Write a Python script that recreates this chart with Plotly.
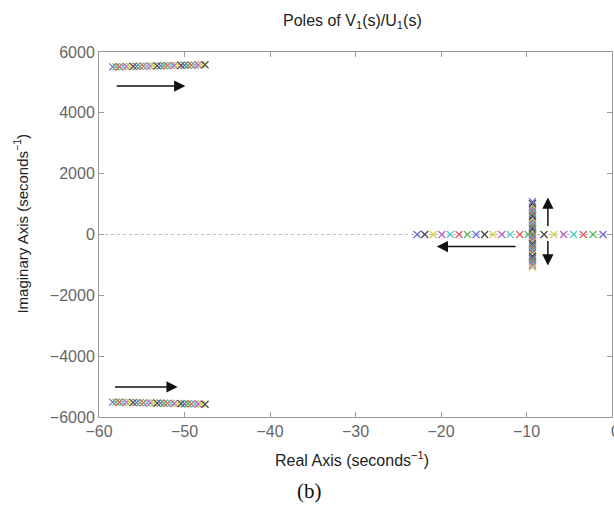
import plotly.graph_objects as go

# ---- data ----
upper_re = [-58.4, -58.0, -57.6, -57.2, -56.8, -56.4, -56.0, -55.6, -55.2, -54.8,
            -54.4, -54.0, -53.6, -53.2, -52.8, -52.4, -52.0, -51.6, -51.2, -50.8,
            -50.4, -50.0, -49.6, -49.2, -48.8, -48.4, -48.0, -47.6]
upper_im = [5510, 5513, 5515, 5518, 5520, 5523, 5525, 5528, 5530, 5533,
            5535, 5538, 5540, 5543, 5545, 5548, 5550, 5553, 5555, 5558,
            5560, 5563, 5565, 5568, 5570, 5573, 5575, 5580]
lower_im = [-v for v in upper_im]

real_left = [-9.8, -10.8, -11.9, -12.9, -13.9, -14.9, -15.9, -16.9, -17.9,
             -18.9, -19.9, -20.9, -21.9, -22.8]
real_right = [-1.05, -2.2, -3.35, -4.5, -5.65, -6.8, -7.95]

column_re = -9.3
column_im = [0, 60, 120, 180, 240, 300, 360, 420, 480, 540, 600,
             660, 720, 780, 840, 900, 960, 1020, 1080]

x_ticks = [-60, -50, -40, -30, -20, -10, 0]
x_ticklabels = ["−60", "−50", "−40", "−30", "−20", "−10", ""]
y_ticks = [-6000, -4000, -2000, 0, 2000, 4000, 6000]

palette = ["#5a5ad8", "#4caf50", "#e04a4e", "#3cc6c6", "#b052c2", "#cccc3a", "#333333"]


def cyc(n, start=0):
    return [palette[(start + i) % len(palette)] for i in range(n)]


def xmark(xs, ys, colors):
    return go.Scatter(
        x=xs, y=ys, mode="markers", showlegend=False, hoverinfo="skip",
        marker=dict(symbol="x-thin", size=7, color=colors, opacity=0.9,
                    line=dict(width=1.2, color=colors)),
    )


fig = go.Figure()

# zero line (dotted)
fig.add_trace(go.Scatter(x=[-60, 0], y=[0, 0], mode="lines", showlegend=False,
                         hoverinfo="skip",
                         line=dict(color="#bbbbbb", width=1, dash="dot")))

fig.add_trace(xmark(upper_re, upper_im, cyc(len(upper_re))))
fig.add_trace(xmark(upper_re, lower_im, cyc(len(upper_re))))
fig.add_trace(xmark(real_left, [0] * len(real_left), cyc(len(real_left), 1)))
fig.add_trace(xmark(real_right, [0] * len(real_right), cyc(len(real_right))))
col_x = [column_re] * (2 * len(column_im))
col_y = column_im + [-v for v in column_im]
fig.add_trace(xmark(col_x, col_y, cyc(len(col_y), 3)))

# arrows (head, tail)
arrows = [
    ((-49.9, 4880), (-58.1, 4880)),
    ((-50.8, -5010), (-58.3, -5010)),
    ((-20.5, -395), (-11.1, -395)),
    ((-7.5, 1216), (-7.5, 230)),
    ((-7.5, -1020), (-7.5, -164)),
]
annotations = []
for (hx, hy), (tx, ty) in arrows:
    annotations.append(dict(x=hx, y=hy, ax=tx, ay=ty, xref="x", yref="y",
                            axref="x", ayref="y", text="", showarrow=True,
                            arrowhead=2, arrowsize=1.5, arrowwidth=1.5,
                            arrowcolor="#111111"))

font = "Liberation Sans, Arial, sans-serif"
annotations += [
    dict(text="Poles of V<sub>1</sub>(s)/U<sub>1</sub>(s)", x=0.495, y=1.083,
         xref="paper", yref="paper", showarrow=False, xanchor="center",
         yanchor="middle", font=dict(family=font, size=16, color="#222222")),
    dict(text="Real Axis (seconds<sup>−1</sup>)", x=0.494, y=-0.116,
         xref="paper", yref="paper", showarrow=False, xanchor="center",
         yanchor="middle", font=dict(family=font, size=16, color="#222222")),
    dict(text="Imaginary Axis (seconds<sup>−1</sup>)", x=-0.152, y=0.53,
         xref="paper", yref="paper", showarrow=False, xanchor="center",
         yanchor="middle", textangle=-90,
         font=dict(family=font, size=15, color="#222222")),
    dict(text="(b)", x=0.41, y=-0.204, xref="paper", yref="paper",
         showarrow=False, xanchor="center", yanchor="middle",
         font=dict(family="Liberation Serif, Times New Roman, serif", size=21,
                   color="#111111")),
    # last x tick label, partly cut off by the picture edge as in the reference
    dict(text="0", x=0, y=0, xref="x", yref="paper", yshift=-14,
         showarrow=False, xanchor="left", xshift=-3, yanchor="middle",
         font=dict(family=font, size=16, color="#666666")),
]

axis_common = dict(showgrid=False, zeroline=False, showline=True, linecolor="#999999",
                   linewidth=1, mirror="ticks", ticks="inside", ticklen=5,
                   tickcolor="#999999", tickfont=dict(family=font, size=16, color="#666666"))

fig.update_layout(
    width=614, height=514,
    margin=dict(l=99, r=2, t=52, b=97),
    paper_bgcolor="white", plot_bgcolor="white",
    xaxis=dict(range=[-60, 0], tickvals=x_ticks, ticktext=x_ticklabels, **axis_common),
    yaxis=dict(range=[-6000, 6000], tickvals=y_ticks, **axis_common),
    annotations=annotations,
)

fig.write_html("out.html")
